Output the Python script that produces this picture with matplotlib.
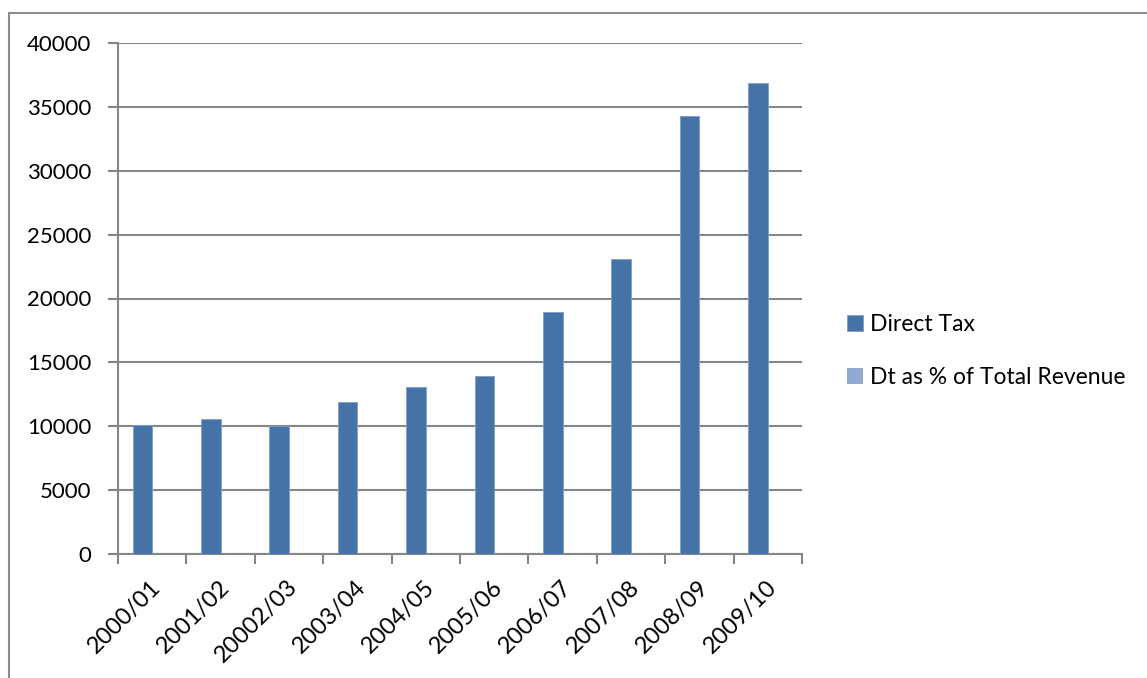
import numpy as np
import matplotlib
matplotlib.use("Agg")
import matplotlib.pyplot as plt
import matplotlib.transforms as mtrans
from matplotlib.patches import Rectangle

plt.rcParams['font.family'] = ['Lato', 'DejaVu Sans']

# data
years = ['2000/01', '2001/02', '20002/03', '2003/04', '2004/05',
         '2005/06', '2006/07', '2007/08', '2008/09', '2009/10']
direct_tax = [10100, 10600, 10050, 11900, 13050, 13950, 18950, 23100, 34300, 36850]
# second series is too small to be seen at this scale
dt_pct = [0, 0, 0, 0, 0, 0, 0, 0, 0, 0]

grid_col = '#868686'
c1 = '#4572A7'
c2 = '#93A9CF'

fig = plt.figure(figsize=(11.47, 6.78), dpi=100)
# outer chart frame (runs off the right and bottom edge)
fig.patches.append(Rectangle((9 / 1147, -0.1), 1.2, 1.1 - 13 / 678,
                             transform=fig.transFigure, fill=False,
                             edgecolor='#8c8c8c', linewidth=1.5))

ax = fig.add_axes([118 / 1147, 1 - 554 / 678, 684 / 1147, 511 / 678])

x = np.arange(len(years))
w = 1 / 3.5
ax.bar(x - 0.5 + 1.25 * w, direct_tax, width=w, color=c1,
       edgecolor='#7f9fcc', linewidth=0.6, label='Direct Tax', zorder=3)
ax.bar(x - 0.5 + 2.25 * w, dt_pct, width=w, color=c2,
       linewidth=0, label='Dt as % of Total Revenue', zorder=3)

ax.set_xlim(-0.5, len(years) - 0.5)
ax.set_ylim(0, 40000)
ax.set_yticks(np.arange(0, 40001, 5000))
ax.yaxis.grid(True, color=grid_col, linewidth=1.5)
ax.set_axisbelow(True)

ax.set_xticks(x)
ax.set_xticklabels(years, rotation=45, ha='right', rotation_mode='anchor')
ax.set_xticks(np.arange(-0.5, len(years)), minor=True)
ax.tick_params(axis='x', which='major', length=0, pad=16, labelsize=17)
ax.tick_params(axis='x', which='minor', length=7, width=1.5, color=grid_col)
ax.tick_params(axis='y', length=7, width=1.5, color=grid_col, pad=12, labelsize=16)
shift = mtrans.ScaledTranslation(-2 / 100, 0, fig.dpi_scale_trans)
for lab in ax.get_xticklabels():
    lab.set_transform(lab.get_transform() + shift)

for s in ['top', 'right']:
    ax.spines[s].set_visible(False)
for s in ['left', 'bottom']:
    ax.spines[s].set_color(grid_col)
    ax.spines[s].set_linewidth(1.5)

fig.legend(loc='center left', bbox_to_anchor=(826 / 1147, 1 - 351 / 678),
           frameon=False, fontsize=16.5, handlelength=0.7, handleheight=0.7,
           handletextpad=0.3, labelspacing=1.4)

fig.savefig('out.png', dpi=100)
